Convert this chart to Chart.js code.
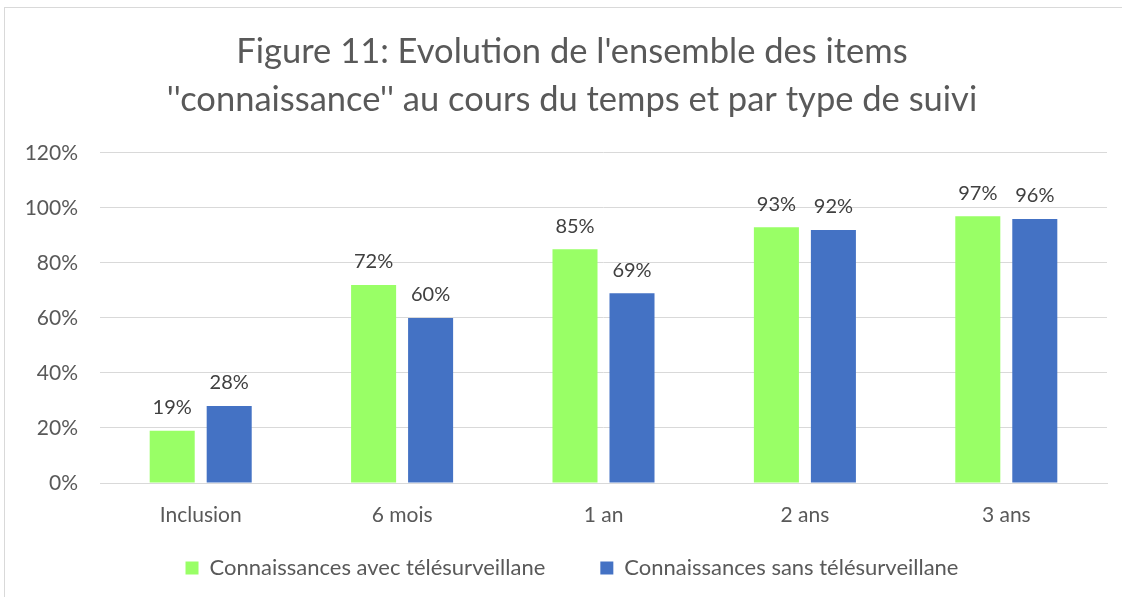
<!DOCTYPE html>
<html>
<head>
<meta charset="utf-8">
<script src="https://cdn.jsdelivr.net/npm/chart.js@4.4.1/dist/chart.umd.min.js"></script>
<style>
    html, body { margin: 0; padding: 0; background: #fff; }
    #wrap { position: relative; width: 1122px; height: 597px; }
    #frame { position: absolute; left: 4px; top: 7px; right: -2px; bottom: -2px; border-left: 1px solid #d9d9d9; border-top: 1px solid #d9d9d9; }
    canvas { position: absolute; left: 0; top: 0; }
</style>
</head>
<body>
<div id="wrap">
    <div id="frame"></div>
    <canvas id="chart" width="1122" height="597"></canvas>
</div>
<script>
// ---- Data ----
const categories = ["Inclusion", "6 mois", "1 an", "2 ans", "3 ans"];
const avecTele = [19, 72, 85, 93, 97];
const sansTele = [28, 60, 69, 92, 96];
const seriesNames = ["Connaissances avec télésurveillane", "Connaissances sans télésurveillane"];
const titleLines = ["Figure 11: Evolution de l'ensemble des items", "''connaissance'' au cours du temps et par type de suivi"];

const FONT = "Lato, 'Open Sans', sans-serif";
const TEXT = "#595959";
const GRID = "#d9d9d9";

// ---- Value labels above bars ----
const valueLabels = {
    id: "valueLabels",
    afterDatasetsDraw(chart) {
        const ctx = chart.ctx;
        ctx.save();
        ctx.font = `20px ${FONT}`;
        ctx.fillStyle = "#404040";
        ctx.textAlign = "center";
        ctx.textBaseline = "bottom";
        chart.data.datasets.forEach((ds, i) => {
            chart.getDatasetMeta(i).data.forEach((bar, j) => {
                ctx.fillText(`${ds.data[j]}%`, bar.x, bar.y - 13);
            });
        });
        ctx.restore();
    },
};

// title and legend sit a bit right of the canvas centre in the original
const shiftBlocks = {
    id: "shiftBlocks",
    afterLayout(chart) {
        if (chart.titleBlock) chart.titleBlock.left += 37;
        if (chart.legend) chart.legend.left += 37;
    },
};

new Chart(document.getElementById("chart").getContext("2d"), {
    type: "bar",
    data: {
        labels: categories,
        datasets: [
            {
                label: seriesNames[0],
                data: avecTele,
                backgroundColor: "#99ff66",
                categoryPercentage: 0.566,
                barPercentage: 0.79,
            },
            {
                label: seriesNames[1],
                data: sansTele,
                backgroundColor: "#4472c4",
                categoryPercentage: 0.566,
                barPercentage: 0.79,
            },
        ],
    },
    options: {
        responsive: false,
        animation: false,
        layout: { padding: { left: 0, right: 15, top: 0, bottom: 8 } },
        plugins: {
            title: {
                display: true,
                text: titleLines,
                color: TEXT,
                font: { family: FONT, size: 34.5, weight: "normal", lineHeight: 1.39 },
                padding: { top: 28, bottom: 29 },
            },
            legend: {
                position: "bottom",
                labels: {
                    color: TEXT,
                    font: { family: FONT, size: 22 },
                    boxWidth: 13,
                    boxHeight: 13,
                    padding: 10,
                    // wider gap between the two entries, as in the original
                    generateLabels: (chart) => {
                        const items = Chart.defaults.plugins.legend.labels.generateLabels(chart);
                        items[0].text += " ".repeat(8);
                        return items;
                    },
                },
            },
            tooltip: { enabled: false },
        },
        scales: {
            x: {
                grid: { display: false },
                border: { color: GRID },
                ticks: { color: TEXT, font: { family: FONT, size: 21 }, padding: 12 },
                afterFit: (s) => { s.height = 64; },
            },
            y: {
                min: 0,
                max: 120,
                ticks: {
                    stepSize: 20,
                    color: TEXT,
                    font: { family: FONT, size: 21 },
                    padding: 22,
                    callback: (v) => `${v}%`,
                },
                grid: { color: GRID, drawTicks: false },
                border: { display: false },
                afterFit: (s) => { s.width = 100; },
            },
        },
    },
    plugins: [valueLabels, shiftBlocks],
});
</script>
</body>
</html>
